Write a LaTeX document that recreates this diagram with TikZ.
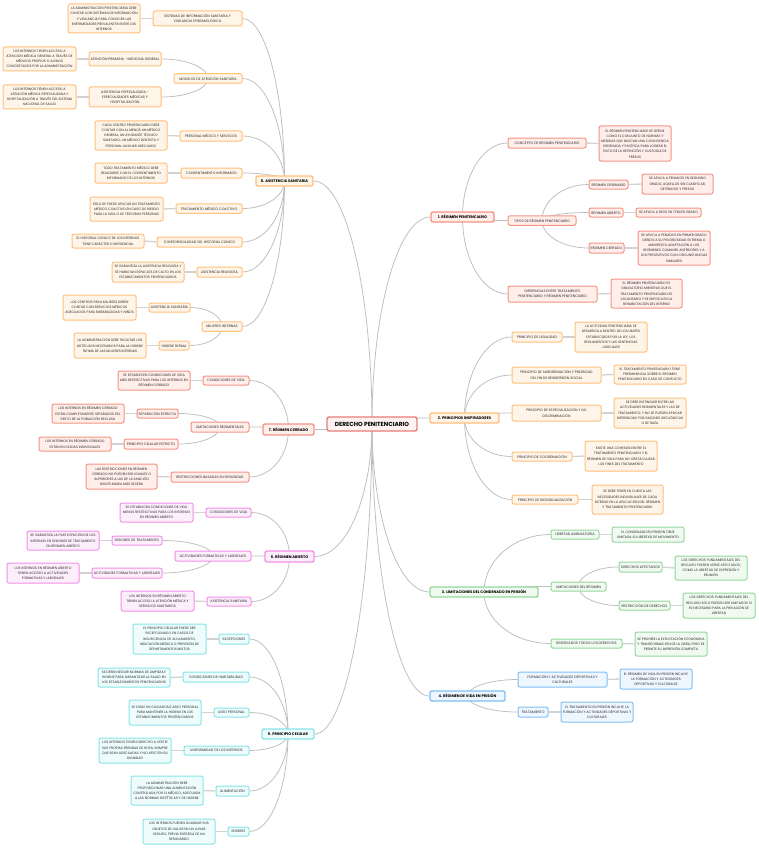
\documentclass[tikz,border=0pt]{standalone}
\usepackage{fontspec}
\setmainfont{Poppins}
\usetikzlibrary{calc,backgrounds}
\definecolor{bOr}{HTML}{FFC07C}\definecolor{fOr}{HTML}{FFF4E8}
\definecolor{bRd}{HTML}{F49484}\definecolor{fRd}{HTML}{FFEEEA}
\definecolor{bGr}{HTML}{96D89C}\definecolor{fGr}{HTML}{F0FAF0}
\definecolor{bBl}{HTML}{82BFF5}\definecolor{fBl}{HTML}{EEF6FF}
\definecolor{bCy}{HTML}{88E4EA}\definecolor{fCy}{HTML}{EEFCFC}
\definecolor{bPk}{HTML}{F290E8}\definecolor{fPk}{HTML}{FDEEFB}
\definecolor{bRoot}{HTML}{E87C7C}\definecolor{fRoot}{HTML}{FFF2F2}
\definecolor{lineC}{HTML}{BDBDBD}\definecolor{lineD}{HTML}{D2D2D2}
\definecolor{txtC}{HTML}{2A2A2A}
\tikzset{
 nBase/.style={draw, rounded corners=2pt, align=center, inner sep=0.5pt, text=txtC},
 nLeaf/.style={nBase, line width=1pt, font=\fontsize{3.35}{5.2}\selectfont},
 nMid/.style={nBase, line width=1pt, font=\fontsize{3.45}{5.2}\selectfont},
 nTop/.style={nBase, line width=1.4pt, font=\fontsize{3.7}{5}\selectfont\bfseries, text=black},
 nRoot/.style={nBase, line width=1.4pt, draw=bRoot, fill=fRoot, font=\fontsize{5.9}{7}\selectfont\bfseries, text=black},
 cO/.style={draw=bOr, fill=fOr}, cR/.style={draw=bRd, fill=fRd},
 cG/.style={draw=bGr, fill=fGr}, cB/.style={draw=bBl, fill=fBl},
 cC/.style={draw=bCy, fill=fCy}, cP/.style={draw=bPk, fill=fPk},
 sz/.style 2 args={minimum width=#1pt, minimum height=#2pt},
 edgeS/.style={draw=lineC, line width=0.75pt},
 leafE/.style={draw=lineD, line width=1.3pt},
}
\newcommand\lkL[2]{\coordinate (kk) at (#1.center |- #2.east);
 \draw[edgeS] (#1.center) .. controls ($(#1.center)!0.55!(kk)$) and ($(#2.east)!0.55!(kk)$) .. (#2.east);}
\newcommand\lkR[2]{\coordinate (kk) at (#1.center |- #2.west);
 \draw[edgeS] (#1.center) .. controls ($(#1.center)!0.55!(kk)$) and ($(#2.west)!0.55!(kk)$) .. (#2.west);}
\newcommand\lfL[2]{\draw[leafE] (#1.west) -- (#2.east);}
\newcommand\lfR[2]{\draw[leafE] (#1.east) -- (#2.west);}
\begin{document}
\begin{tikzpicture}[x=1pt,y=-1pt]
\useasboundingbox (0,0) rectangle (759,848);
% root
\node[nRoot, sz={90}{14}] (root) at (372,424) {DERECHO PENITENCIARIO};
% ---------- 8
\node[nTop, cO, sz={57}{10}] (n8) at (284.5,181) {8. ASISTENCIA SANITARIA};
\node[nMid, cO, sz={89}{15}] (s1) at (197.5,18.5) {SISTEMAS DE INFORMACIÓN SANITARIA Y\\VIGILANCIA EPIDEMIOLÓGICA};
\node[nLeaf, cO, sz={72}{29}] (s1l) at (104,18.5) {LA ADMINISTRACIÓN PENITENCIARIA DEBE\\CONTAR CON SISTEMAS DE INFORMACIÓN\\Y VIGILANCIA PARA CONOCER LAS\\ENFERMEDADES PREVALENTES ENTRE LOS\\INTERNOS};
\node[nMid, cO, sz={68}{9.5}] (s2) at (208,78.5) {MODELOS DE ATENCIÓN SANITARIA};
\node[nMid, cO, sz={72}{14}] (s2a) at (125,59) {ATENCIÓN PRIMARIA - MEDICINA GENERAL};
\node[nLeaf, cO, sz={73}{24}] (s2al) at (39.5,59) {LOS INTERNOS TIENEN ACCESO A\\ATENCIÓN MÉDICA GENERAL A TRAVÉS DE\\MÉDICOS PROPIOS O AJENOS\\CONCERTADOS POR LA ADMINISTRACIÓN};
\node[nMid, cO, sz={72}{20}] (s2b) at (125,97) {ASISTENCIA ESPECIALIZADA -\\ESPECIALIDADES MÉDICAS Y\\HOSPITALIZACIÓN};
\node[nLeaf, cO, sz={73}{24}] (s2bl) at (39.5,97) {LOS INTERNOS TIENEN ACCESO A\\ATENCIÓN MÉDICA ESPECIALIZADA Y\\HOSPITALIZACIÓN A TRAVÉS DEL SISTEMA\\NACIONAL DE SALUD};
\node[nMid, cO, sz={62}{10}] (s3) at (211,136) {PERSONAL MÉDICO Y SERVICIOS};
\node[nLeaf, cO, sz={72}{29}] (s3l) at (131,135.5) {CADA CENTRO PENITENCIARIO DEBE\\CONTAR CON AL MENOS UN MÉDICO\\GENERAL, UN AYUDANTE TÉCNICO\\SANITARIO, UN MÉDICO DENTISTA Y\\PERSONAL AUXILIAR ADECUADO};
\node[nMid, cO, sz={61}{10}] (s4) at (211.5,173) {CONSENTIMIENTO INFORMADO};
\node[nLeaf, cO, sz={72}{20}] (s4l) at (131,173) {TODO TRATAMIENTO MÉDICO DEBE\\REALIZARSE CON EL CONSENTIMIENTO\\INFORMADO DE LOS INTERNOS};
\node[nMid, cO, sz={66}{9.5}] (s5) at (209,208.5) {TRATAMIENTO MÉDICO COACTIVO};
\node[nLeaf, cO, sz={73}{24}] (s5l) at (126.5,209) {SÓLO SE PUEDE APLICAR UN TRATAMIENTO\\MÉDICO COACTIVO EN CASO DE RIESGO\\PARA LA VIDA O DE TERCERAS PERSONAS};
\node[nMid, cO, sz={85}{10}] (s6) at (199.5,242) {CONFIDENCIALIDAD DEL HISTORIAL CLÍNICO};
\node[nLeaf, cO, sz={72}{14}] (s6l) at (108,241) {EL HISTORIAL CLÍNICO DE LOS INTERNOS\\TIENE CARÁCTER CONFIDENCIAL};
\node[nMid, cO, sz={45}{10}] (s7) at (219.5,272) {ASISTENCIA RELIGIOSA};
\node[nLeaf, cO, sz={72}{20}] (s7l) at (148,272) {SE GARANTIZA LA ASISTENCIA RELIGIOSA Y\\SE HABILITAN ESPACIOS DE CULTO EN LOS\\ESTABLECIMIENTOS PENITENCIARIOS};
\node[nMid, cO, sz={40}{9.5}] (s8) at (222,326.5) {MUJERES INTERNAS};
\node[nMid, cO, sz={41}{9}] (s8a) at (169.5,307.5) {ASISTENCIA SANITARIA};
\node[nLeaf, cO, sz={73}{25}] (s8al) at (99.5,307.5) {LOS CENTROS PARA MUJERES DEBEN\\CONTAR CON SERVICIOS MÉDICOS\\ADECUADOS PARA EMBARAZADAS Y NIÑOS};
\node[nMid, cO, sz={30}{9}] (s8b) at (174,345.5) {HIGIENE ÍNTIMA};
\node[nLeaf, cO, sz={72}{25}] (s8bl) at (110,345.5) {LA ADMINISTRACIÓN DEBE FACILITAR LOS\\ARTÍCULOS NECESARIOS PARA LA HIGIENE\\ÍNTIMA DE LAS MUJERES INTERNAS};
% ---------- 7
\node[nTop, cR, sz={51}{11}] (n7) at (288.5,429.5) {7. RÉGIMEN CERRADO};
\node[nMid, cR, sz={46}{9}] (c1) at (226,380.5) {CONDICIONES DE VIDA};
\node[nLeaf, cR, sz={72}{19}] (c1l) at (154,380.5) {SE ESTABLECEN CONDICIONES DE VIDA\\MÁS RESTRICTIVAS PARA LOS INTERNOS EN\\RÉGIMEN CERRADO};
\node[nMid, cR, sz={58}{10}] (c2) at (220,427) {LIMITACIONES REGIMENTALES};
\node[nMid, cR, sz={41}{9}] (c2a) at (157.5,413.5) {SEPARACIÓN ESTRICTA};
\node[nLeaf, cR, sz={72}{19}] (c2al) at (88,413.5) {LOS INTERNOS EN RÉGIMEN CERRADO\\ESTÁN COMPLETAMENTE SEPARADOS DEL\\RESTO DE LA POBLACIÓN RECLUSA};
\node[nMid, cR, sz={54}{10}] (c2b) at (151,444) {PRINCIPIO CELULAR ESTRICTO};
\node[nLeaf, cR, sz={72}{14}] (c2bl) at (75,444) {LOS INTERNOS EN RÉGIMEN CERRADO\\ESTÁN EN CELDAS INDIVIDUALES};
\node[nMid, cR, sz={78}{10}] (c3) at (210,477) {RESTRICCIONES BASADAS EN SEGURIDAD};
\node[nLeaf, cR, sz={71}{25}] (c3l) at (121.5,476.5) {LAS RESTRICCIONES EN RÉGIMEN\\CERRADO NO PUEDEN SER IGUALES O\\SUPERIORES A LAS DE LA SANCIÓN\\DISCIPLINARIA MÁS SEVERA};
% ---------- 6
\node[nTop, cP, sz={49}{11}] (n6) at (289.5,556.5) {6. RÉGIMEN ABIERTO};
\node[nMid, cP, sz={45}{9}] (a1) at (228.5,512.5) {CONDICIONES DE VIDA};
\node[nLeaf, cP, sz={73}{19}] (a1l) at (156.5,512.5) {SE ESTABLECEN CONDICIONES DE VIDA\\MENOS RESTRICTIVAS PARA LOS INTERNOS\\EN RÉGIMEN ABIERTO};
\node[nMid, cP, sz={76}{10}] (a2) at (213,556) {ACTIVIDADES FORMATIVAS Y LABORALES};
\node[nMid, cP, sz={50}{9}] (a2a) at (137,540.5) {SESIONES DE TRATAMIENTO};
\node[nLeaf, cP, sz={72}{19}] (a2al) at (63,540.5) {SE GARANTIZA LA PARTICIPACIÓN DE LOS\\INTERNOS EN SESIONES DE TRATAMIENTO\\EN RÉGIMEN ABIERTO};
\node[nMid, cP, sz={70}{10}] (a2b) at (127,573) {ACTIVIDADES FORMATIVAS Y LABORALES};
\node[nLeaf, cP, sz={72}{20}] (a2bl) at (43,573) {LOS INTERNOS EN RÉGIMEN ABIERTO\\TIENEN ACCESO A ACTIVIDADES\\FORMATIVAS Y LABORALES};
\node[nMid, cP, sz={44}{9}] (a3) at (229,601.5) {ASISTENCIA SANITARIA};
\node[nLeaf, cP, sz={73}{20}] (a3l) at (157.5,601) {LOS INTERNOS EN RÉGIMEN ABIERTO\\TIENEN ACCESO A ATENCIÓN MÉDICA Y\\SERVICIOS SANITARIOS};
% ---------- 5
\node[nTop, cC, sz={52}{10}] (n5) at (288,734) {5. PRINCIPIO CELULAR};
\node[nMid, cC, sz={30}{10}] (p1) at (234,639) {EXCEPCIONES};
\node[nLeaf, cC, sz={73}{30}] (p1l) at (169.5,639) {EL PRINCIPIO CELULAR PUEDE SER\\EXCEPCIONADO EN CASOS DE\\INSUFICIENCIA DE ALOJAMIENTO,\\INDICACIÓN MÉDICA O PREVISIÓN DE\\DEPARTAMENTOS MIXTOS};
\node[nMid, cC, sz={66}{10}] (p2) at (216,677) {CONDICIONES DE HABITABILIDAD};
\node[nLeaf, cC, sz={72}{19}] (p2l) at (134,677.5) {SE DEBEN SEGUIR NORMAS DE LIMPIEZA E\\HIGIENE PARA GARANTIZAR LA SALUD EN\\LOS ESTABLECIMIENTOS PENITENCIARIOS};
\node[nMid, cC, sz={35}{9}] (p3) at (231.5,712.5) {ASEO PERSONAL};
\node[nLeaf, cC, sz={72}{25}] (p3l) at (165,712.5) {SE EXIGE UN CUIDADOSO ASEO PERSONAL\\PARA MANTENER LA HIGIENE EN LOS\\ESTABLECIMIENTOS PENITENCIARIOS};
\node[nMid, cC, sz={65}{9}] (p4) at (216.5,750.5) {UNIFORMIDAD DE LOS INTERNOS};
\node[nLeaf, cC, sz={72}{25}] (p4l) at (135,750.5) {LOS INTERNOS TIENEN DERECHO A VESTIR\\SUS PROPIAS PRENDAS DE ROPA, SIEMPRE\\QUE SEAN ADECUADAS Y NO AFECTEN SU\\DIGNIDAD};
\node[nMid, cC, sz={33}{10}] (p5) at (232.5,791) {ALIMENTACIÓN};
\node[nLeaf, cC, sz={72}{29}] (p5l) at (167,790.5) {LA ADMINISTRACIÓN DEBE\\PROPORCIONAR UNA ALIMENTACIÓN\\CONTROLADA POR EL MÉDICO, ADECUADA\\A LAS NORMAS DIETÉTICAS Y DE HIGIENE};
\node[nMid, cC, sz={21}{9}] (p6) at (238.5,831.5) {ENSERES};
\node[nLeaf, cC, sz={72}{25}] (p6l) at (179,831.5) {LOS INTERNOS PUEDEN GUARDAR SUS\\OBJETOS DE VALOR EN UN LUGAR\\SEGURO, PREVIA ENTREGA DE UN\\RESGUARDO};
% ---------- 1
\node[nTop, cR, sz={63}{10}] (n1) at (462.5,217) {1. RÉGIMEN PENITENCIARIO};
\node[nMid, cR, sz={78}{10}] (r1) at (547,143) {CONCEPTO DE RÉGIMEN PENITENCIARIO};
\node[nLeaf, cR, sz={72}{35}] (r1l) at (635,143.5) {EL RÉGIMEN PENITENCIARIO SE DEFINE\\COMO EL CONJUNTO DE NORMAS Y\\MEDIDAS QUE BUSCAN UNA CONVIVENCIA\\ORDENADA Y PACÍFICA PARA LOGRAR EL\\ÉXITO DE LA RETENCIÓN Y CUSTODIA DE\\PRESOS};
\node[nMid, cR, sz={68}{9.5}] (r2) at (542,220.5) {TIPOS DE RÉGIMEN PENITENCIARIO};
\node[nMid, cR, sz={39}{9}] (r2a) at (608.5,184.5) {RÉGIMEN ORDINARIO};
\node[nLeaf, cR, sz={71}{20}] (r2al) at (677.5,184) {SE APLICA A PENADOS EN SEGUNDO\\GRADO, AQUELLOS SIN CLASIFICAR,\\DETENIDOS Y PRESOS};
\node[nMid, cR, sz={34}{9}] (r2b) at (606,212.5) {RÉGIMEN ABIERTO};
\node[nLeaf, cR, sz={65}{9}] (r2bl) at (668.5,212.5) {SE APLICA A REOS EN TERCER GRADO};
\node[nMid, cR, sz={35}{10}] (r2c) at (606.5,248) {RÉGIMEN CERRADO};
\node[nLeaf, cR, sz={72}{34}] (r2cl) at (674,248) {SE APLICA A PENADOS EN PRIMER GRADO\\DEBIDO A SU PELIGROSIDAD EXTREMA O\\MANIFIESTA ADAPTACIÓN A LOS\\REGÍMENES COMUNES ANTERIORES Y A\\LOS PREVENTIVOS CON CIRCUNSTANCIAS\\SIMILARES};
\node[nMid, cR, sz={89}{16}] (r3) at (552.5,294) {DIFERENCIAS ENTRE TRATAMIENTO\\PENITENCIARIO Y RÉGIMEN PENITENCIARIO};
\node[nLeaf, cR, sz={71}{29}] (r3l) at (646.5,293.5) {EL RÉGIMEN PENITENCIARIO ES\\OBLIGATORIO MIENTRAS QUE EL\\TRATAMIENTO PENITENCIARIO ES\\VOLUNTARIO Y SE ENFOCA EN LA\\REHABILITACIÓN DEL INTERNO};
% ---------- 2
\node[nTop, cO, sz={69}{10}] (n2) at (464.5,418) {2. PRINCIPIOS INSPIRADORES};
\node[nMid, cO, sz={50}{10}] (i1) at (537,337) {PRINCIPIO DE LEGALIDAD};
\node[nLeaf, cO, sz={72}{30}] (i1l) at (611,337) {LA ACTIVIDAD PENITENCIARIA SE\\DESARROLLA DENTRO DE LOS LÍMITES\\ESTABLECIDOS POR LA LEY, LOS\\REGLAMENTOS Y LAS SENTENCIAS\\JUDICIALES};
\node[nMid, cO, sz={89}{16}] (i2) at (556.5,375) {PRINCIPIO DE SUBORDINACIÓN Y PRIORIDAD\\DEL FIN DE REINSERSIÓN SOCIAL};
\node[nLeaf, cO, sz={72}{19}] (i2l) at (650,374.5) {EL TRATAMIENTO PENITENCIARIO TIENE\\PREEMINENCIA SOBRE EL RÉGIMEN\\PENITENCIARIO EN CASO DE CONFLICTO};
\node[nMid, cO, sz={89}{16}] (i3) at (556.5,413) {PRINCIPIO DE ESPECIALIZACIÓN Y NO\\DISCRIMINACIÓN};
\node[nLeaf, cO, sz={72}{30}] (i3l) at (650,413) {SE DEBE DISTINGUIR ENTRE LAS\\ACTIVIDADES REGIMENTALES Y LAS DE\\TRATAMIENTO, Y NO SE PUEDEN APLICAR\\DIFERENCIAS POR RAZONES IDEOLÓGICAS\\O DE RAZA};
\node[nMid, cO, sz={60}{9}] (i4) at (542,456.5) {PRINCIPIO DE COORDINACIÓN};
\node[nLeaf, cO, sz={72}{30}] (i4l) at (621,456) {EXISTE UNA COHESIÓN ENTRE EL\\TRATAMIENTO PENITENCIARIO Y EL\\RÉGIMEN DE VIDA PARA NO OBSTACULIZAR\\LOS FINES DEL TRATAMIENTO};
\node[nMid, cO, sz={66}{9}] (i5) at (545,499.5) {PRINCIPIO DE INDIVIDUALIZACIÓN};
\node[nLeaf, cO, sz={71}{29}] (i5l) at (627.5,499.5) {SE DEBE TENER EN CUENTA LAS\\NECESIDADES INDIVIDUALES DE CADA\\INTERNO EN LA APLICACIÓN DEL RÉGIMEN\\Y TRATAMIENTO PENITENCIARIO};
% ---------- 3
\node[nTop, cG, sz={108}{10}] (n3) at (484,592) {3. LIMITACIONES DEL CONDENADO EN PRISIÓN};
\node[nMid, cG, sz={48}{9}] (l1) at (575,534.5) {LIBERTAD AMBULATORIA};
\node[nLeaf, cG, sz={72}{15}] (l1l) at (648,534.5) {EL CONDENADO EN PRISIÓN TIENE\\LIMITADA SU LIBERTAD DE MOVIMIENTO};
\node[nMid, cG, sz={55}{9}] (l2) at (578.5,586.5) {LIMITACIONES DEL RÉGIMEN};
\node[nMid, cG, sz={43}{10}] (l2a) at (640.5,567) {DERECHOS AFECTADOS};
\node[nLeaf, cG, sz={72}{24}] (l2al) at (711,568) {LOS DERECHOS FUNDAMENTALES DEL\\RECLUSO PUEDEN VERSE AFECTADOS,\\COMO LA LIBERTAD DE EXPRESIÓN Y\\REUNIÓN};
\node[nMid, cG, sz={51}{9}] (l2b) at (644.5,605.5) {RESTRICCIÓN DE DERECHOS};
\node[nLeaf, cG, sz={72}{25}] (l2bl) at (719,605.5) {LOS DERECHOS FUNDAMENTALES DEL\\RECLUSO SÓLO PUEDEN SER LIMITADOS SI\\ES NECESARIO PARA LA PRIVACIÓN DE\\LIBERTAD};
\node[nMid, cG, sz={71}{9}] (l3) at (586.5,643.5) {RESERVADOS TODOS LOS DERECHOS};
\node[nLeaf, cG, sz={72}{24}] (l3l) at (671,644) {SE PROHÍBE LA EXPLOTACIÓN ECONÓMICA\\Y TRANSFORMACIÓN DE LA OBRA, PERO SE\\PERMITE SU IMPRESIÓN COMPLETA};
% ---------- 4
\node[nTop, cB, sz={75}{10}] (n4) at (467.5,696) {4. RÉGIMEN DE VIDA EN PRISIÓN};
\node[nMid, cB, sz={89}{15}] (v1) at (562.5,679.5) {FORMACIÓN Y ACTIVIDADES DEPORTIVAS Y\\CULTURALES};
\node[nLeaf, cB, sz={72}{20}] (v1l) at (656,679) {EL RÉGIMEN DE VIDA EN PRISIÓN INCLUYE\\LA FORMACIÓN Y ACTIVIDADES\\DEPORTIVAS Y CULTURALES};
\node[nMid, cB, sz={30}{10}] (v2) at (533,712) {TRATAMIENTO};
\node[nLeaf, cB, sz={72}{20}] (v2l) at (597,712) {EL TRATAMIENTO EN PRISIÓN INCLUYE LA\\FORMACIÓN Y ACTIVIDADES DEPORTIVAS Y\\CULTURALES};
% ---------- connectors
\begin{pgfonlayer}{background}
\fill[white] (0,0) rectangle (759,848);
\lkL{root}{n8}\lkL{root}{n7}\lkL{root}{n6}\lkL{root}{n5}
\lkR{root}{n1}\lkR{root}{n2}\lkR{root}{n3}\lkR{root}{n4}
\lkL{n8}{s1}\lkL{n8}{s2}\lkL{n8}{s3}\lkL{n8}{s4}\lkL{n8}{s5}\lkL{n8}{s6}\lkL{n8}{s7}\lkL{n8}{s8}
\lkL{s2}{s2a}\lkL{s2}{s2b}\lkL{s8}{s8a}\lkL{s8}{s8b}
\lfL{s1}{s1l}\lfL{s2a}{s2al}\lfL{s2b}{s2bl}\lfL{s3}{s3l}\lfL{s4}{s4l}\lfL{s5}{s5l}\lfL{s6}{s6l}\lfL{s7}{s7l}\lfL{s8a}{s8al}\lfL{s8b}{s8bl}
\lkL{n7}{c1}\lkL{n7}{c2}\lkL{n7}{c3}\lkL{c2}{c2a}\lkL{c2}{c2b}
\lfL{c1}{c1l}\lfL{c2a}{c2al}\lfL{c2b}{c2bl}\lfL{c3}{c3l}
\lkL{n6}{a1}\lkL{n6}{a2}\lkL{n6}{a3}\lkL{a2}{a2a}\lkL{a2}{a2b}
\lfL{a1}{a1l}\lfL{a2a}{a2al}\lfL{a2b}{a2bl}\lfL{a3}{a3l}
\lkL{n5}{p1}\lkL{n5}{p2}\lkL{n5}{p3}\lkL{n5}{p4}\lkL{n5}{p5}\lkL{n5}{p6}
\lfL{p1}{p1l}\lfL{p2}{p2l}\lfL{p3}{p3l}\lfL{p4}{p4l}\lfL{p5}{p5l}\lfL{p6}{p6l}
\lkR{n1}{r1}\lkR{n1}{r2}\lkR{n1}{r3}\lkR{r2}{r2a}\lkR{r2}{r2b}\lkR{r2}{r2c}
\lfR{r1}{r1l}\lfR{r2a}{r2al}\lfR{r2b}{r2bl}\lfR{r2c}{r2cl}\lfR{r3}{r3l}
\lkR{n2}{i1}\lkR{n2}{i2}\lkR{n2}{i3}\lkR{n2}{i4}\lkR{n2}{i5}
\lfR{i1}{i1l}\lfR{i2}{i2l}\lfR{i3}{i3l}\lfR{i4}{i4l}\lfR{i5}{i5l}
\lkR{n3}{l1}\lkR{n3}{l2}\lkR{n3}{l3}\lkR{l2}{l2a}\lkR{l2}{l2b}
\lfR{l1}{l1l}\lfR{l2a}{l2al}\lfR{l2b}{l2bl}\lfR{l3}{l3l}
\lkR{n4}{v1}\lkR{n4}{v2}
\lfR{v1}{v1l}\lfR{v2}{v2l}
\end{pgfonlayer}
\end{tikzpicture}
\end{document}
